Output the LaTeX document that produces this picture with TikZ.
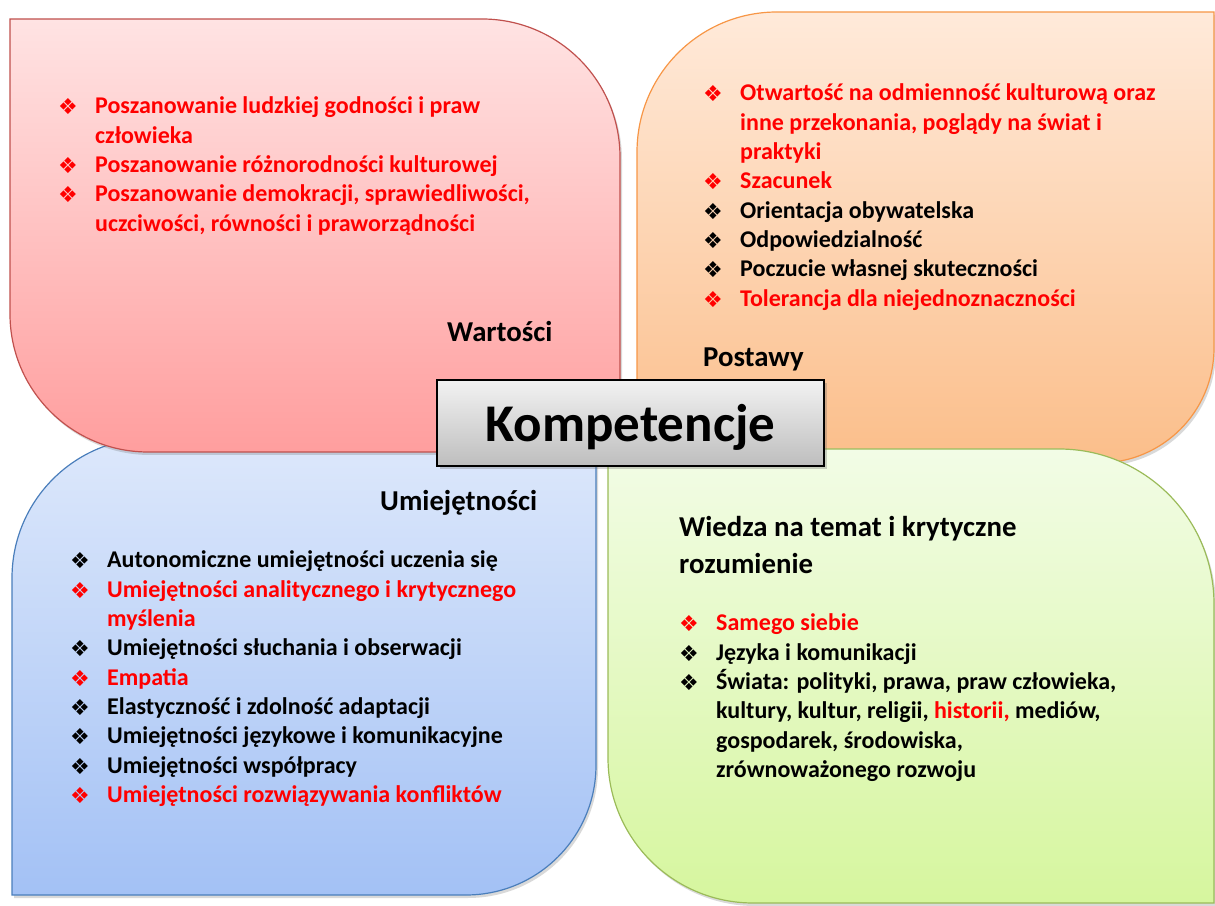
\documentclass[tikz,border=0pt]{standalone}
\usepackage{fontspec}
\setmainfont{Carlito}
\newfontfamily\symfont{DejaVu Sans}
\usetikzlibrary{shadows}
\definecolor{rtx}{HTML}{FF0000}
\definecolor{redtop}{HTML}{FFE3E3}
\definecolor{redbot}{HTML}{FF9E9E}
\definecolor{redline}{HTML}{C0504D}
\definecolor{ortop}{HTML}{FFEADA}
\definecolor{orbot}{HTML}{FBBE8A}
\definecolor{orline}{HTML}{F79646}
\definecolor{bltop}{HTML}{DDE8FB}
\definecolor{blbot}{HTML}{A3C1F5}
\definecolor{blline}{HTML}{4A7EBB}
\definecolor{grtop}{HTML}{F2FCE6}
\definecolor{grbot}{HTML}{D6F69E}
\definecolor{grline}{HTML}{9BBB59}
\definecolor{ktop}{HTML}{F2F2F2}
\definecolor{kbot}{HTML}{BEBEBE}
\tikzset{
  shapebase/.style={line width=1.2pt, drop shadow={shadow xshift=2pt, shadow yshift=-3pt, opacity=0.25, fill=black!60}},
  redbox/.style={shapebase, draw=redline, top color=redtop, bottom color=redbot},
  orbox/.style={shapebase, draw=orline, top color=ortop, bottom color=orbot},
  blbox/.style={shapebase, draw=blline, top color=bltop, bottom color=blbot},
  grbox/.style={shapebase, draw=grline, top color=grtop, bottom color=grbot},
  kbox/.style={draw=black, line width=2pt, top color=ktop, bottom color=kbot, minimum width=387pt, minimum height=86pt, inner sep=0pt, drop shadow={shadow xshift=3pt, shadow yshift=-3pt, opacity=0.3, fill=black!60}},
  ktxt/.style={anchor=base, inner sep=0pt, font=\fontsize{53}{60}\selectfont\bfseries},
  itm/.style={anchor=base west, inner sep=0pt, font=\fontsize{24}{29}\selectfont\bfseries, text=black},
  ritm/.style={itm, text=rtx},
  bul/.style={anchor=center, inner sep=0pt, font=\symfont\fontsize{22}{22}\selectfont, text=black},
  rbul/.style={bul, text=rtx},
  ttl/.style={anchor=base west, inner sep=0pt, font=\fontsize{28.8}{35}\selectfont\bfseries, text=black},
}
\begin{document}
\begin{tikzpicture}[x=1pt,y=1pt]
\useasboundingbox (0,0) rectangle (1215,905);
% shapes
\path[blbox] (12,327) arc[start angle=180,end angle=90,radius=140] -- (596,467) -- (596,140) arc[start angle=0,end angle=-90,radius=130] -- (12,10) -- cycle;
\path[orbox] (637,753) arc[start angle=180,end angle=90,radius=140] -- (1214,893) -- (1214,557) arc[start angle=0,end angle=-90,radius=115] -- (637,442) -- cycle;
\path[redbox] (10,886) -- (482,886) arc[start angle=90,end angle=0,radius=138] -- (620,453) -- (148,453) arc[start angle=270,end angle=180,radius=138] -- cycle;
\path[grbox] (608,456) -- (1059,456) arc[start angle=90,end angle=0,radius=155] -- (1214,2) -- (753,2) arc[start angle=270,end angle=180,radius=145] -- cycle;

% Wartości
\node[rbul] (w1b) at (68,798) {❖};
\node[ritm] (w1) at (95,791) {Poszanowanie ludzkiej godności i praw};
\node[ritm] (w1c) at (95,761.7) {człowieka};
\node[rbul] (w2b) at (68,739.4) {❖};
\node[ritm] (w2) at (95,732.4) {Poszanowanie różnorodności kulturowej};
\node[rbul] (w3b) at (68,710.1) {❖};
\node[ritm] (w3) at (95,703.1) {Poszanowanie demokracji, sprawiedliwości,};
\node[ritm] (w3c) at (95,673.8) {uczciwości, równości i praworządności};
\node[ttl] (wt) at (447,563) {Wartości};

% Postawy
\node[rbul] (o1b) at (713,811) {❖};
\node[ritm] (o1) at (740,804) {Otwartość na odmienność kulturową oraz};
\node[ritm] (o1c) at (740,774.7) {inne przekonania, poglądy na świat i};
\node[ritm] (o1d) at (740,745.4) {praktyki};
\node[rbul] (o2b) at (713,723.1) {❖};
\node[ritm] (o2) at (740,716.1) {Szacunek};
\node[bul] (o3b) at (713,693.8) {❖};
\node[itm] (o3) at (740,686.8) {Orientacja obywatelska};
\node[bul] (o4b) at (713,664.5) {❖};
\node[itm] (o4) at (740,657.5) {Odpowiedzialność};
\node[bul] (o5b) at (713,635.2) {❖};
\node[itm] (o5) at (740,628.2) {Poczucie własnej skuteczności};
\node[rbul] (o6b) at (713,605.9) {❖};
\node[ritm] (o6) at (740,598.9) {Tolerancja dla niejednoznaczności};
\node[ttl] (pt) at (703,538) {Postawy};

% Umiejętności
\node[ttl] (ut) at (380,394) {Umiejętności};
\node[bul] (u1b) at (80,344) {❖};
\node[itm] (u1) at (107,337) {Autonomiczne umiejętności uczenia się};
\node[rbul] (u2b) at (80,314.7) {❖};
\node[ritm] (u2) at (107,307.7) {Umiejętności analitycznego i krytycznego};
\node[ritm] (u2c) at (107,278.4) {myślenia};
\node[bul] (u3b) at (80,256.1) {❖};
\node[itm] (u3) at (107,249.1) {Umiejętności słuchania i obserwacji};
\node[rbul] (u4b) at (80,226.8) {❖};
\node[ritm] (u4) at (107,219.8) {Empatia};
\node[bul] (u5b) at (80,197.5) {❖};
\node[itm] (u5) at (107,190.5) {Elastyczność i zdolność adaptacji};
\node[bul] (u6b) at (80,168.2) {❖};
\node[itm] (u6) at (107,161.2) {Umiejętności językowe i komunikacyjne};
\node[bul] (u7b) at (80,138.9) {❖};
\node[itm] (u7) at (107,131.9) {Umiejętności współpracy};
\node[rbul] (u8b) at (80,109.6) {❖};
\node[ritm] (u8) at (107,102.6) {Umiejętności rozwiązywania konfliktów};

% Wiedza
\node[ttl] (gt1) at (679,368) {Wiedza na temat i krytyczne};
\node[ttl] (gt2) at (679,331) {rozumienie};
\node[rbul] (g1b) at (689,281) {❖};
\node[ritm] (g1) at (716,274) {Samego siebie};
\node[bul] (g2b) at (689,251.7) {❖};
\node[itm] (g2) at (716,244.7) {Języka i komunikacji};
\node[bul] (g3b) at (689,222.4) {❖};
\node[itm] (g3) at (716,215.4) {Świata: polityki, prawa, praw człowieka,};
\node[itm] (g3c) at (716,186.1) {kultury, kultur, religii, \textcolor{rtx}{historii,} mediów,};
\node[itm] (g3d) at (716,156.8) {gospodarek, środowiska,};
\node[itm] (g3e) at (716,127.5) {zrównoważonego rozwoju};

% centre
\node[kbox] (komp) at (630.5,482) {};
\node[ktxt] (kt) at (630.5,463.3) {Kompetencje};
\end{tikzpicture}
\end{document}
